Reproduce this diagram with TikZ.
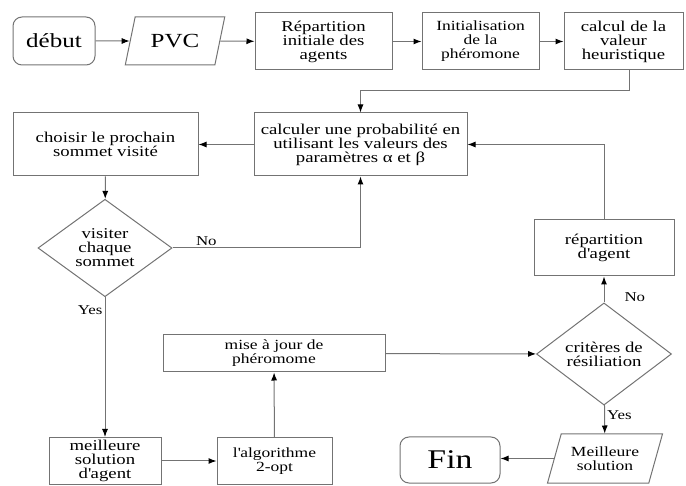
\documentclass[tikz,border=0pt]{standalone}
\usepackage{fontspec}
\setmainfont{Liberation Serif}[FakeStretch=1.25]
\usetikzlibrary{shapes.geometric,arrows.meta}

\tikzset{
  box/.style={draw=black!55, line width=1pt, rectangle, align=center, inner sep=0pt,
    font=\fontsize{15}{14}\selectfont},
  term/.style={box, rounded corners=9pt},
  io/.style={box, trapezium, trapezium left angle=66, trapezium right angle=114,
    trapezium stretches=true},
  test/.style={box, diamond},
  arr/.style={draw=black!55, line width=1pt, -{Latex[length=8pt,width=6pt,color=black]}},
  lbl/.style={font=\fontsize{13.5}{14}\selectfont, inner sep=2pt}
}

\begin{document}
\begin{tikzpicture}[x=1pt,y=-1pt]
\useasboundingbox (0,0) rectangle (686,486);

% first row
\node[term, minimum width=82pt, minimum height=48pt, font=\fontsize{20}{20}\selectfont] (debut) at (54,41) {début};
\node[io, minimum width=100pt, minimum height=48pt, font=\fontsize{20}{20}\selectfont] (pvc) at (175,41) {PVC};
\node[box, minimum width=137pt, minimum height=57pt] (rep) at (323.5,41.5) {Répartition\\initiale des\\agents};
\node[box, minimum width=117pt, minimum height=57pt, font=\fontsize{14}{14}\selectfont] (init) at (480.5,41.5) {Initialisation\\de la\\phéromone};
\node[box, minimum width=119pt, minimum height=57pt] (calc) at (623.5,41.5) {calcul de la\\valeur\\heuristique};

% loop
\node[box, minimum width=213pt, minimum height=63pt] (prob) at (360.5,144.5) {calculer une probabilité en\\utilisant les valeurs des\\paramètres α et β};
\node[box, minimum width=185pt, minimum height=63pt] (choix) at (105.5,144.5) {choisir le prochain\\sommet visité};
\node[test, minimum width=134pt, minimum height=90pt] (visit) at (105,248) {visiter\\chaque\\sommet};
\node[box, minimum width=140pt, minimum height=56pt] (repag) at (604,248) {répartition\\d\textquotesingle agent};

% bottom part
\node[box, minimum width=112pt, minimum height=47pt] (best) at (105,461) {meilleure\\solution\\d\textquotesingle agent};
\node[box, minimum width=115pt, minimum height=46pt, font=\fontsize{14}{14}\selectfont] (algo) at (274.5,461) {l\textquotesingle algorithme\\2-opt};
\node[box, minimum width=222pt, minimum height=37pt, font=\fontsize{14}{14}\selectfont] (maj) at (274,353.5) {mise à jour de\\phéromome};
\node[test, minimum width=135pt, minimum height=91pt] (crit) at (604,354) {critères de\\résiliation};
\node[io, minimum width=115pt, minimum height=49pt, font=\fontsize{14}{14}\selectfont] (meil) at (605,458.5) {Meilleure\\solution};
\node[term, minimum width=100pt, minimum height=46pt, font=\fontsize{27}{27}\selectfont] (fin) at (450,460) {Fin};

\draw[arr] (debut) -- (pvc);
\draw[arr] (pvc) -- (rep);
\draw[arr] (rep) -- (init);
\draw[arr] (init) -- (calc);
\draw[arr] ([xshift=6pt]calc.south) -- ++(0,20) -| (prob.north);
\draw[arr] (prob) -- (choix);
\draw[arr] (choix) -- (visit);
\draw[arr] (visit.east) -| node[lbl, above, pos=0.09] {No} (prob.south);
\draw[arr] (visit) -- node[lbl, left, pos=0.09] {Yes} (best);
\draw[arr] (best) -- (algo);
\draw[arr] (algo) -- (maj);
\draw[arr] (maj) -- (crit);
\draw[arr] (crit) -- node[lbl, right, pos=0.2, xshift=18pt] {No} (repag);
\draw[arr] (repag.north) |- (prob.east);
\draw[arr] (crit) -- node[lbl, right, pos=0.35] {Yes} (meil);
\draw[arr] (meil.west) -- (meil.west -| fin.east);

\end{tikzpicture}
\end{document}
